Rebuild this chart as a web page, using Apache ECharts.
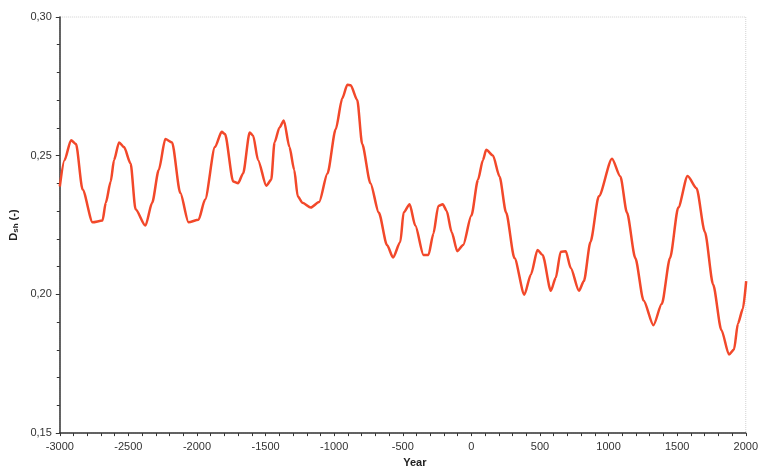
<!DOCTYPE html>
<html>
<head>
<meta charset="utf-8">
<title>Dsh</title>
<script src="https://cdn.jsdelivr.net/npm/echarts@6/dist/echarts.min.js"></script>
<style>
  html, body { margin: 0; padding: 0; background: #fff; }
  #chart { width: 761px; height: 473px; }
</style>
</head>
<body>
<div id="chart"></div>
<script>
// Year of each sample
const years = [
  -3000, -2966, -2918, -2882, -2834, -2761, -2689, -2665, -2629, -2605,
  -2568, -2532, -2484, -2448, -2376, -2327, -2279, -2231, -2182, -2122,
  -2062, -1989, -1941, -1869, -1820, -1796, -1736, -1700, -1664, -1616,
  -1591, -1555, -1495, -1459, -1435, -1399, -1367, -1326, -1291, -1266,
  -1231, -1170, -1110, -1049, -989, -941, -904, -880, -832, -796,
  -736, -675, -615, -571, -518, -494, -450, -409, -349, -313,
  -277, -241, -209, -180, -144, -103, -60, 0, 48, 84,
  108, 157, 205, 253, 314, 386, 434, 482, 519, 579,
  615, 651, 688, 724, 784, 820, 868, 929, 1025, 1086,
  1134, 1195, 1255, 1327, 1388, 1448, 1508, 1576, 1641, 1702,
  1762, 1822, 1878, 1914, 1943, 1979, 2003
];

// D_sh value at each year
const dsh = [
  0.2389, 0.2484, 0.2556, 0.2542, 0.2378, 0.2260, 0.2266, 0.2330, 0.2407, 0.2484,
  0.2548, 0.2531, 0.2472, 0.2307, 0.2248, 0.2330, 0.2448, 0.2560, 0.2548, 0.2366,
  0.2260, 0.2269, 0.2342, 0.2531, 0.2586, 0.2578, 0.2407, 0.2401, 0.2436, 0.2584,
  0.2572, 0.2484, 0.2392, 0.2413, 0.2548, 0.2601, 0.2627, 0.2531, 0.2448, 0.2354,
  0.2330, 0.2313, 0.2333, 0.2436, 0.2595, 0.2707, 0.2756, 0.2754, 0.2701, 0.2542,
  0.2401, 0.2295, 0.2178, 0.2133, 0.2189, 0.2295, 0.2325, 0.2248, 0.2142, 0.2142,
  0.2219, 0.2319, 0.2325, 0.2301, 0.2225, 0.2156, 0.2178, 0.2284, 0.2413, 0.2484,
  0.2521, 0.2501, 0.2425, 0.2295, 0.2131, 0.1999, 0.2072, 0.2160, 0.2142, 0.2013,
  0.2060, 0.2154, 0.2156, 0.2095, 0.2013, 0.2048, 0.2189, 0.2354, 0.2489, 0.2425,
  0.2295, 0.2131, 0.1978, 0.1889, 0.1966, 0.2131, 0.2313, 0.2427, 0.2383, 0.2225,
  0.2036, 0.1872, 0.1783, 0.1801, 0.1895, 0.1948, 0.2048
];

const chart = echarts.init(document.getElementById('chart'), null, { renderer: 'canvas' });

const axisFont = { fontFamily: 'Liberation Sans, Arial, sans-serif', fontSize: 11, color: '#333' };

chart.setOption({
  animation: false,
  backgroundColor: '#fff',
  grid: {
    left: 57, right: 13, top: 17, bottom: 31,
    show: true,
    borderColor: '#d0d0d0',
    borderWidth: 1,
    borderType: 'dotted'
  },
  xAxis: {
    type: 'value',
    min: -3000, max: 2000, interval: 500,
    name: 'Year',
    nameLocation: 'middle',
    nameGap: 20,
    nameTextStyle: { fontFamily: 'Liberation Sans, Arial, sans-serif', fontSize: 11, fontWeight: 'bold', color: '#222', padding: [0, 0, 0, 24] },
    axisLine: { onZero: false, lineStyle: { color: '#333', width: 1.5 } },
    axisTick: { show: true, length: 3, lineStyle: { color: '#333' } },
    minorTick: { show: true, splitNumber: 5, length: 3, lineStyle: { color: '#333' } },
    splitLine: { show: false },
    axisLabel: Object.assign({ margin: 8, formatter: v => String(v) }, axisFont)
  },
  yAxis: {
    type: 'value',
    min: 0.15, max: 0.30, interval: 0.05,
    name: '{d|D}{s|sh}{d| (-)}',
    nameLocation: 'middle',
    nameRotate: 90,
    nameGap: 35,
    nameTextStyle: {
      rich: {
        d: { fontFamily: 'Liberation Sans, Arial, sans-serif', fontSize: 11, fontWeight: 'bold', color: '#222' },
        s: { fontFamily: 'Liberation Sans, Arial, sans-serif', fontSize: 8, fontWeight: 'bold', color: '#222', verticalAlign: 'bottom', padding: [4, 0, 0, 0] }
      }
    },
    axisLine: { show: true, onZero: false, lineStyle: { color: '#333', width: 1.5 } },
    axisTick: { show: true, length: 4, lineStyle: { color: '#333' } },
    minorTick: { show: true, splitNumber: 5, length: 3, lineStyle: { color: '#333' } },
    splitLine: { show: false },
    axisLabel: Object.assign({
      margin: 8,
      formatter: v => v.toFixed(2).replace('.', ',')
    }, axisFont)
  },
  series: [{
    type: 'line',
    data: years.map((y, i) => [y, dsh[i]]),
    showSymbol: false,
    smooth: 0.25,
    smoothMonotone: 'x',
    lineStyle: { color: '#f2482a', width: 2.5 },
    clip: true
  }]
});
</script>
</body>
</html>
